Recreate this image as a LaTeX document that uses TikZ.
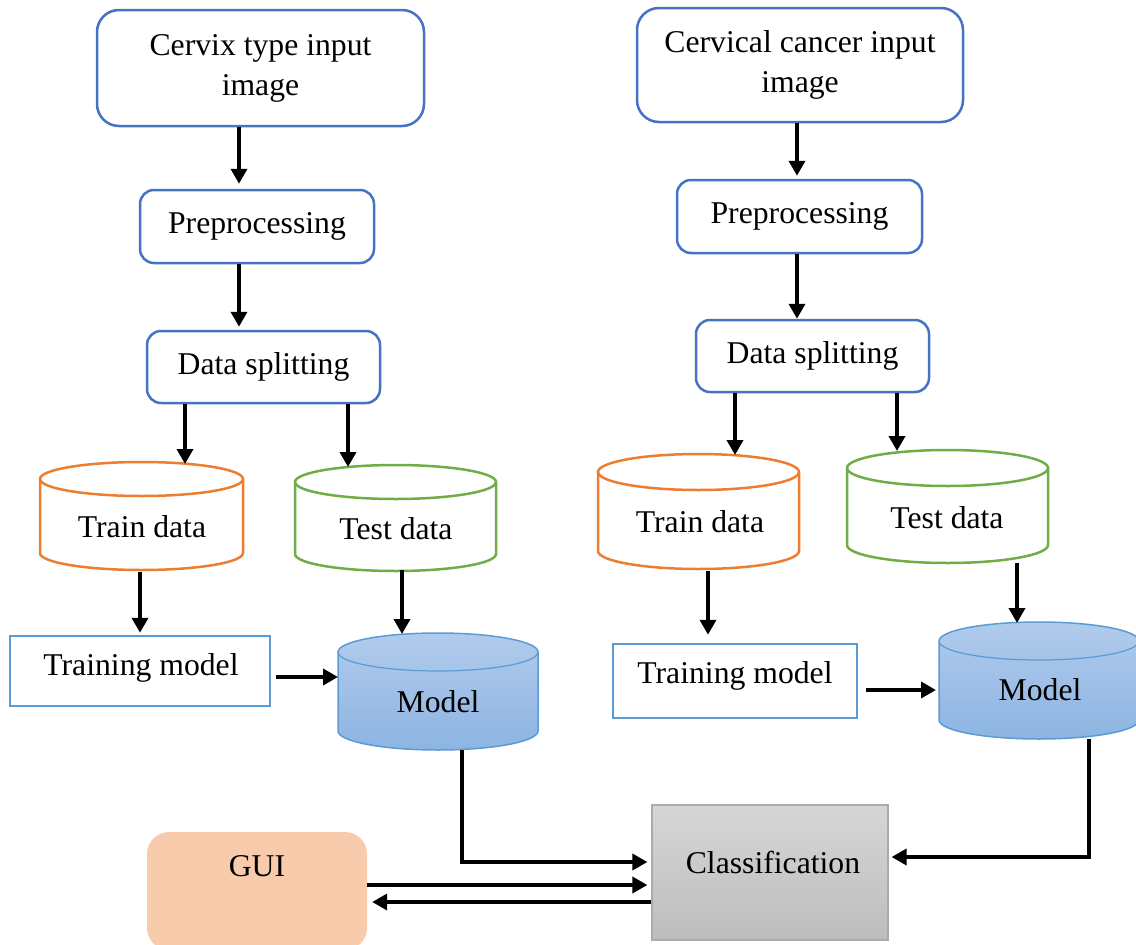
\documentclass[tikz,border=0pt]{standalone}
\usepackage{fontspec}
\setmainfont{Liberation Serif}
\usetikzlibrary{arrows.meta}

\definecolor{boxblue}{HTML}{4472C4}
\definecolor{lineblue}{HTML}{5B9BD5}
\definecolor{trainorange}{HTML}{ED7D31}
\definecolor{testgreen}{HTML}{70AD47}
\definecolor{modeltop}{HTML}{B1CBEC}
\definecolor{modelbot}{HTML}{8DB4E2}
\definecolor{guifill}{HTML}{F8CBAD}
\definecolor{clstop}{HTML}{D6D6D6}
\definecolor{clsbot}{HTML}{BDBDBD}
\definecolor{clsborder}{HTML}{ABABAB}

% Cylinder body drawn around a (blank) rectangular node.
% #1 node name, #2 half width, #3 ellipse y radius, #4 outline style, #5 top-rim style
\newcommand\drumbody[5]{%
  \path[#4] ([yshift=-#3]#1.north west) -- ([yshift=#3]#1.south west)
    arc[start angle=180,end angle=360,x radius=#2,y radius=#3]
    -- ([yshift=-#3]#1.north east)
    arc[start angle=0,end angle=180,x radius=#2,y radius=#3] -- cycle;
  \path[#5] ([yshift=-#3]#1.north west)
    arc[start angle=180,end angle=360,x radius=#2,y radius=#3];
}

\tikzset{
  txt/.style={font=\fontsize{31.7}{40}\selectfont},
  procbox/.style={draw=boxblue, line width=2.5pt, rounded corners=14pt, fill=white,
    inner sep=0pt, align=center, txt},
  trainbox/.style={draw=lineblue, line width=2.5pt, fill=white, inner sep=0pt, txt},
  drum/.style={inner sep=0pt, outer sep=0pt, draw=none},
  arr/.style={line width=3.6pt, -{Triangle[length=15pt,width=16pt]}},
}

\begin{document}
\begin{tikzpicture}[x=1pt,y=-1pt]
\useasboundingbox (0,0) rectangle (1136,945);

% ---------- left branch: cervix type ----------
\node[procbox, rounded corners=22pt, minimum width=327pt, minimum height=116pt] (b1) at (260.5,68) {Cervix type input\\image};
\node[procbox, minimum width=234pt, minimum height=73pt] (p1) at (257,226.5) {Preprocessing};
\node[procbox, minimum width=233pt, minimum height=72pt] (d1) at (263.5,367) {Data splitting};
\node[drum, minimum width=203pt, minimum height=108pt] (tr1) at (141.5,516) {};
\node[drum, minimum width=201pt, minimum height=106pt] (te1) at (395.5,518) {};
\node[trainbox, minimum width=260pt, minimum height=70pt] (tm1) at (140,671) {};
\node[drum, minimum width=200pt, minimum height=117pt] (m1) at (438,691.5) {};

% ---------- right branch: cervical cancer ----------
\node[procbox, rounded corners=22pt, minimum width=326pt, minimum height=114pt] (b2) at (800,65) {Cervical cancer input\\image};
\node[procbox, minimum width=245pt, minimum height=73pt] (p2) at (799.5,216.5) {Preprocessing};
\node[procbox, minimum width=233pt, minimum height=72pt] (d2) at (812.5,356) {Data splitting};
\node[drum, minimum width=201pt, minimum height=115pt] (tr2) at (698.5,511.5) {};
\node[drum, minimum width=201pt, minimum height=113pt] (te2) at (947.5,506.5) {};
\node[trainbox, minimum width=244pt, minimum height=74pt] (tm2) at (735,681) {};
\node[drum, minimum width=200pt, minimum height=117pt] (m2) at (1039,680.5) {};

% ---------- bottom: GUI and classification ----------
\node[fill=guifill, rounded corners=22pt, minimum width=220pt, minimum height=118pt, inner sep=0pt] (gui) at (257,891) {};
\node[draw=clsborder, line width=1.2pt, top color=clstop, bottom color=clsbot,
      minimum width=236pt, minimum height=135pt, inner sep=0pt] (cls) at (770,872.5) {};

% cylinder bodies
\drumbody{tr1}{101.5pt}{17pt}{draw=trainorange, line width=2.5pt, fill=white}{draw=trainorange, line width=2.5pt}
\drumbody{te1}{100.5pt}{17pt}{draw=testgreen, line width=2.5pt, fill=white}{draw=testgreen, line width=2.5pt}
\drumbody{m1}{100pt}{19pt}{draw=lineblue, line width=1.5pt, top color=modeltop, bottom color=modelbot}{draw=lineblue, line width=1.2pt}
\drumbody{tr2}{100.5pt}{18pt}{draw=trainorange, line width=2.5pt, fill=white}{draw=trainorange, line width=2.5pt}
\drumbody{te2}{100.5pt}{18pt}{draw=testgreen, line width=2.5pt, fill=white}{draw=testgreen, line width=2.5pt}
\drumbody{m2}{100pt}{19pt}{draw=lineblue, line width=1.5pt, top color=modeltop, bottom color=modelbot}{draw=lineblue, line width=1.2pt}

% labels
\node[txt] (tr1t) at (142,527) {Train data};
\node[txt] (te1t) at (396,529) {Test data};
\node[txt] (tm1t) at (141,668) {Training model};
\node[txt] (m1t) at (438,702) {Model};
\node[txt] (tr2t) at (700,522) {Train data};
\node[txt] (te2t) at (947,518) {Test data};
\node[txt] (tm2t) at (735,676) {Training model};
\node[txt] (m2t) at (1040,690) {Model};
\node[txt] (guit) at (257,866) {GUI};
\node[txt] (clst) at (773,862) {Classification};

% ---------- connectors ----------
\draw[arr, shorten >=5pt] (b1.south -| 239,0) -- (p1.north -| 239,0);
\draw[arr, shorten >=3pt] (p1.south -| 239,0) -- (d1.north -| 239,0);
\draw[arr, shorten >=-2pt] (d1.south -| 185,0) -- (tr1.north -| 185,0);
\draw[arr, shorten >=-2pt] (d1.south -| 348,0) -- (te1.north -| 348,0);
\draw[arr, shorten <=2pt, shorten >=2pt] (tr1.south -| 140,0) -- (tm1.north -| 140,0);
\draw[arr, shorten <=-1pt, shorten >=-1pt] (te1.south -| 402,0) -- (m1.north -| 402,0);
\draw[arr, shorten <=5pt] (tm1.east |- 0,677) -- (m1.west |- 0,677);
\draw[arr, shorten >=4pt] (m1.south -| 462,0) |- (cls.west |- 0,862);

\draw[arr, shorten >=3pt] (b2.south -| 797,0) -- (p2.north -| 797,0);
\draw[arr, shorten >=0pt] (p2.south -| 797,0) -- (d2.north -| 797,0);
\draw[arr, shorten >=-1pt] (d2.south -| 735,0) -- (tr2.north -| 735,0);
\draw[arr, shorten >=-1pt] (d2.south -| 897,0) -- (te2.north -| 897,0);
\draw[arr, shorten <=2pt, shorten >=8pt] (tr2.south -| 708,0) -- (tm2.north -| 708,0);
\draw[arr, shorten >=-1pt] (te2.south -| 1017,0) -- (m2.north -| 1017,0);
\draw[arr, shorten <=8pt, shorten >=3pt] (tm2.east |- 0,690) -- (m2.west |- 0,690);
\draw[arr, shorten >=3pt] (m2.south -| 1089,0) |- (cls.east |- 0,857);

\draw[arr, shorten >=4pt] (gui.east |- 0,885) -- (cls.west |- 0,885);
\draw[arr, shorten >=5pt] (cls.west |- 0,902) -- (gui.east |- 0,902);
\end{tikzpicture}
\end{document}
